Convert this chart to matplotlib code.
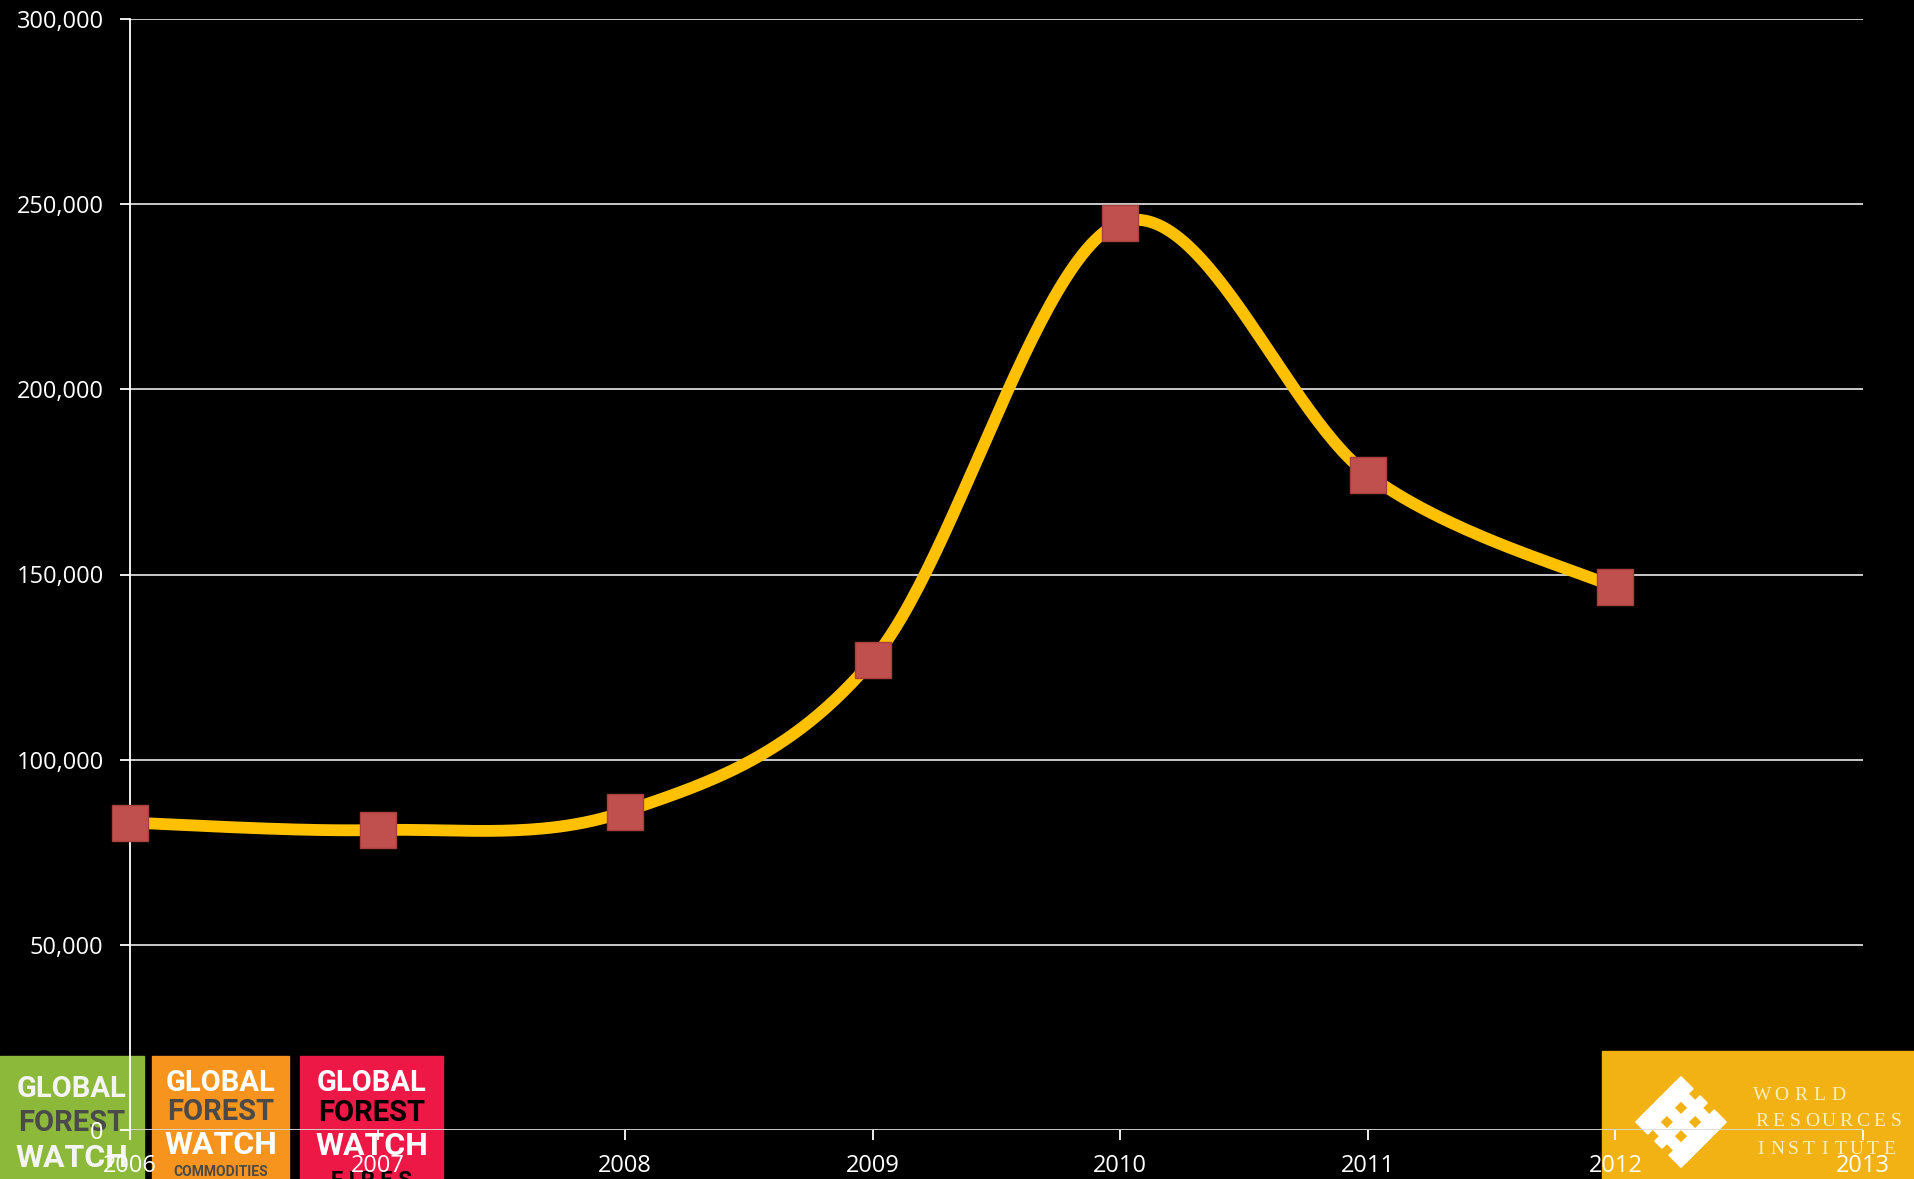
import numpy as np
import matplotlib.pyplot as plt
from matplotlib.patches import Rectangle, Polygon

years = [2006, 2007, 2008, 2009, 2010, 2011, 2012]
values = [83000, 81000, 86000, 127000, 245000, 177000, 146500]
x_ticks = [2006, 2007, 2008, 2009, 2010, 2011, 2012, 2013]
y_ticks = [0, 50000, 100000, 150000, 200000, 250000, 300000]

W, H = 1915, 1179


def smooth_line(xs, ys, n=60):
    # bezier smoothing like the spreadsheet "smoothed line"
    p = np.column_stack([xs, ys]).astype(float)
    pts = np.vstack([p[0], p, p[-1]])
    out = []
    t = np.linspace(0, 1, n)[:, None]
    for i in range(1, len(pts) - 2):
        p0, p3 = pts[i], pts[i + 1]
        c1 = p0 + (pts[i + 1] - pts[i - 1]) / 6.0
        c2 = p3 - (pts[i + 2] - pts[i]) / 6.0
        seg = ((1 - t) ** 3) * p0 + 3 * ((1 - t) ** 2) * t * c1 + 3 * (1 - t) * t ** 2 * c2 + t ** 3 * p3
        out.append(seg)
    out = np.vstack(out)
    return out[:, 0], out[:, 1]


def fx(px):
    return px / W


def fy(py):
    return 1 - py / H


fig = plt.figure(figsize=(W / 100, H / 100), dpi=100, facecolor='black')
ax = fig.add_axes([fx(130), fy(1130), fx(1863) - fx(130), fy(19) - fy(1130)])
ax.set_facecolor('none')

ax.set_xlim(2006, 2013)
ax.set_ylim(0, 300000)
ax.set_xticks(x_ticks)
ax.set_yticks(y_ticks)
ax.set_yticklabels([f"{v:,}" for v in y_ticks])

for v in y_ticks:
    ax.axhline(v, color='#d9d9d9', lw=1.3, zorder=1)

for s in ['top', 'right', 'bottom']:
    ax.spines[s].set_visible(False)
ax.spines['left'].set_color('white')
ax.spines['left'].set_linewidth(1.3)

ax.tick_params(axis='both', colors='white', labelcolor='white', labelsize=17,
               length=7, width=1.3, direction='out')
ax.tick_params(axis='y', pad=12)
ax.tick_params(axis='x', pad=10)
for lab in ax.get_xticklabels() + ax.get_yticklabels():
    lab.set_fontfamily('Open Sans')

sx, sy = smooth_line(years, values)
ax.plot(sx, sy, color='#FFC000', lw=8.5, solid_capstyle='round', zorder=3, clip_on=False)
ax.plot(years, values, ls='none', marker='s', markersize=26, clip_on=False,
        markerfacecolor='#C0504D', markeredgecolor='#A8403D', markeredgewidth=1, zorder=4)

# logos (behind the chart)
def logo(x0, x1, y0, color, lines):
    fig.patches.append(Rectangle((fx(x0), fy(H)), fx(x1) - fx(x0), fy(y0) - fy(H),
                                 transform=fig.transFigure, color=color, zorder=-5))
    for txt, py, c, size in lines:
        fig.text(fx((x0 + x1) / 2), fy(py), txt, color=c, fontsize=size, fontweight='bold',
                 family='Roboto', ha='center', va='center', zorder=-4)


logo(0, 144, 1056, '#8CB93A', [('GLOBAL', 1089, '#f4f4f4', 21),
                                ('FOREST', 1123, '#4a4a4a', 21),
                                ('WATCH', 1158, '#f4f4f4', 23)])
logo(152, 289, 1056, '#F7941D', [('GLOBAL', 1083, 'white', 21),
                                  ('FOREST', 1112, '#4a4a4a', 21),
                                  ('WATCH', 1145, 'white', 23),
                                  ('COMMODITIES', 1172, '#4a4a4a', 10)])
logo(300, 443, 1056, '#ED1846', [('GLOBAL', 1083, 'white', 21),
                                  ('FOREST', 1113, 'black', 21),
                                  ('WATCH', 1146, 'white', 23),
                                  ('F I R E S', 1181, 'black', 16)])

# world resources institute
fig.patches.append(Rectangle((fx(1602), fy(H)), fx(W) - fx(1602), fy(1051) - fy(H),
                             transform=fig.transFigure, color='#F2B213', zorder=-5))
cx, cy = 1681, 1122
ang = np.deg2rad(45)
rot = np.array([[np.cos(ang), -np.sin(ang)], [np.sin(ang), np.cos(ang)]])


def bar(u0, u1, v0, v1):
    corners = np.array([[u0, v0], [u1, v0], [u1, v1], [u0, v1]]) @ rot.T
    pts = [(fx(cx + a), fy(cy + b)) for a, b in corners]
    fig.patches.append(Polygon(pts, closed=True, transform=fig.transFigure,
                               color='white', zorder=-4))


for k in [-20, 0, 20]:
    bar(-32, 32, k - 5, k + 5)
    bar(k - 5, k + 5, -32, 32)
for k in [-20, 0, 20]:
    bar(-32, -26, k - 12, k + 12)
    bar(26, 32, k - 12, k + 12)

for word, py, x_end in [('WORLD', 1095, 1848), ('RESOURCES', 1122, 1905), ('INSTITUTE', 1150, 1897)]:
    pitch = (x_end - 1753) / len(word)
    for i, ch in enumerate(word):
        fig.text(fx(1753 + pitch * (i + 0.5)), fy(py), ch, color='#FBEFC4', fontsize=14,
                 family='Liberation Serif', ha='center', va='center', zorder=-4)

fig.savefig('out.png', dpi=100, facecolor='black')
